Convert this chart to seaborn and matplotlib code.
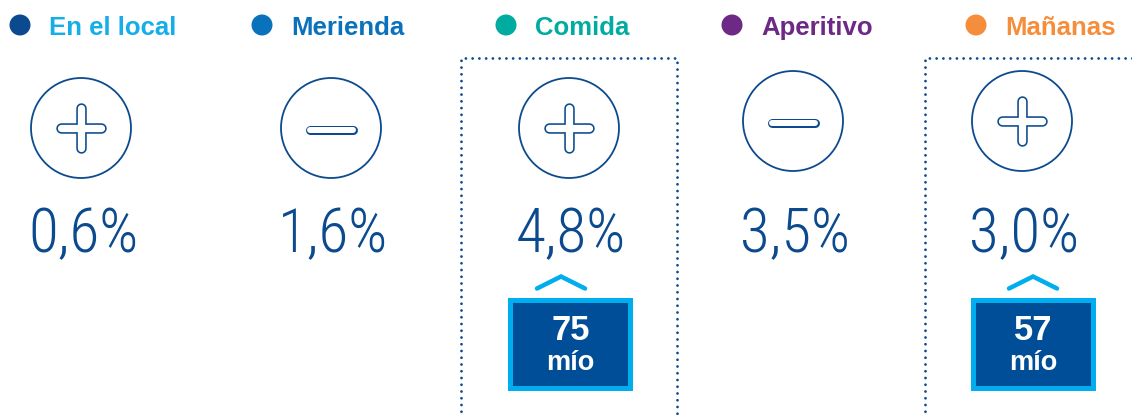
import matplotlib
matplotlib.use("Agg")
import matplotlib.pyplot as plt
import seaborn as sns
import pandas as pd
from matplotlib.patches import Circle, Rectangle

# ---------------- data ----------------
categories = ["En el local", "Merienda", "Comida", "Aperitivo", "Mañanas"]
values = [0.6, 1.6, 4.8, 3.5, 3.0]          # % change
signs = ["+", "-", "+", "-", "+"]
highlight_values = [None, None, 75, None, 57]
highlight_unit = "mío"
dot_colors = ["#0B4A8E", "#0A72BC", "#00ACA0", "#6C2A86", "#F68D3A"]
label_colors = ["#14AEE8", "#0A72BC", "#00ACA0", "#6C2A86", "#F68D3A"]

# ---------------- layout (pixels) ----------------
W, H = 1132, 417
col_x = [81, 331, 569, 793, 1022]
circle_y = [128, 128, 128, 121, 121]
dot_x = [20, 262, 506, 732, 976]
box_x = [None, None, 570.5, None, 1033]
caret_x = [None, None, 561, None, 1033]
frame_x = [None, None, (461, 677), None, (925, 1150)]

NAVY = "#0B4A8E"
BOX_NAVY = "#004E98"
LIGHT = "#00AEEF"
PX = 0.72  # points per pixel at dpi 100

sns.set_theme(style="white")
plt.rcParams["font.family"] = ["Liberation Sans", "DejaVu Sans"]

fig = plt.figure(figsize=(W / 100, H / 100), dpi=100)
ax = fig.add_axes([0, 0, 1, 1])

# legend dots via seaborn
df = pd.DataFrame({"x": dot_x, "y": [25] * 5, "cat": categories})
sns.scatterplot(data=df, x="x", y="y", hue="cat", palette=dot_colors,
                s=(21 * PX) ** 2, linewidth=0, legend=False, ax=ax, zorder=3)
ax.set_xlim(0, W)
ax.set_ylim(H, 0)
ax.axis("off")

for i, cat in enumerate(categories):
    ax.text(dot_x[i] + 29, 25, cat, color=label_colors[i], fontsize=18.5,
            fontweight="bold", va="center_baseline", ha="left")

    cx, cy = col_x[i], circle_y[i]
    ax.add_patch(Circle((cx, cy), 50, fill=False, ec=NAVY, lw=1.8 * PX, zorder=2))
    if signs[i] == "+":
        for (xs, ys) in [([cx - 20, cx + 20], [cy, cy]), ([cx, cx], [cy - 20, cy + 20])]:
            ax.plot(xs, ys, color=NAVY, lw=10.5 * PX, solid_capstyle="round", zorder=3)
        for (xs, ys) in [([cx - 20, cx + 20], [cy, cy]), ([cx, cx], [cy - 20, cy + 20])]:
            ax.plot(xs, ys, color="white", lw=7.3 * PX, solid_capstyle="round", zorder=4)
    else:
        ax.plot([cx - 21.5, cx + 21.5], [cy + 2, cy + 2], color=NAVY, lw=9 * PX,
                solid_capstyle="round", zorder=3)
        ax.plot([cx - 21.5, cx + 21.5], [cy + 2, cy + 2], color="white", lw=6 * PX,
                solid_capstyle="round", zorder=4)

    txt = f"{values[i]:.1f}".replace(".", ",") + "%"
    ax.text(cx + 2, 252, txt, color=NAVY, fontsize=44, ha="center", va="baseline",
            family=["Roboto Condensed", "DejaVu Sans"], fontstretch="condensed",
            fontweight="light")

    if highlight_values[i] is not None:
        bx = box_x[i]
        ax.add_patch(Rectangle((bx - 62.5, 298), 125, 93, fc=LIGHT, ec="none", zorder=2))
        ax.add_patch(Rectangle((bx - 57.5, 303), 115, 83, fc=BOX_NAVY, ec="none", zorder=3))
        ax.text(bx, 340, str(highlight_values[i]), color="white", fontsize=25,
                fontweight="bold", ha="center", va="baseline", zorder=4)
        ax.text(bx, 370, highlight_unit, color="white", fontsize=19.5,
                fontweight="bold", ha="center", va="baseline", zorder=4)
        kx = caret_x[i]
        ax.plot([kx - 24, kx, kx + 24], [288.5, 276.5, 288.5], color=LIGHT,
                lw=4.5 * PX, solid_capstyle="round", solid_joinstyle="miter", zorder=3)

    if frame_x[i] is not None:
        x0, x1 = frame_x[i]
        dot_style = dict(color=NAVY, lw=2.8 * PX, linestyle=(0, (0.01, 2.4)),
                         dash_capstyle="round", zorder=1)
        ax.plot([x0, x0, x1, x1], [H + 10, 58, 58, H + 10], **dot_style)

fig.savefig("out.png", dpi=100)
